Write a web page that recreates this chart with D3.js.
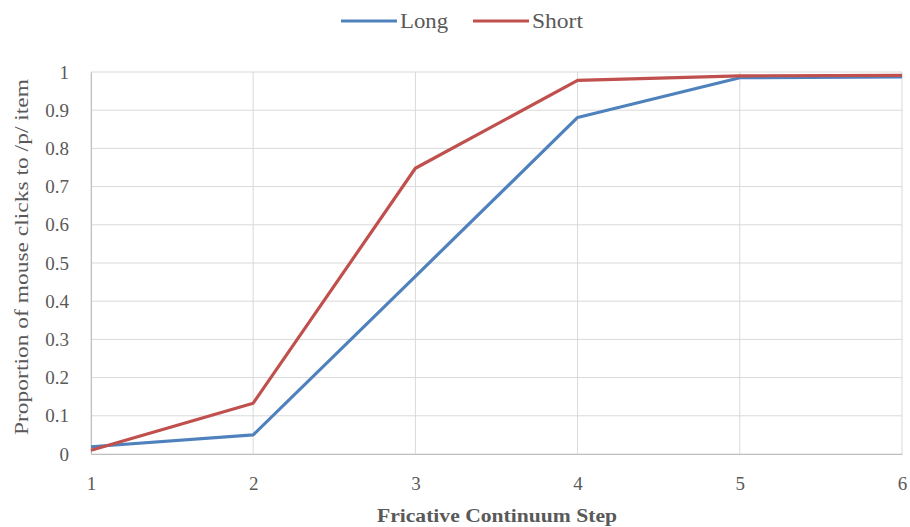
<!DOCTYPE html>
<html><head><meta charset="utf-8">
<script src="https://cdn.jsdelivr.net/npm/d3@7"></script>
<style>body{margin:0;background:#fff} svg text{font-family:"Liberation Serif","Times New Roman","DejaVu Serif",serif !important;}</style>
</head><body>
<svg id="c" width="910" height="527"></svg>
<script>
const steps = [1, 2, 3, 4, 5, 6];
const longVals = [0.019, 0.05, 0.465, 0.881, 0.985, 0.987];
const shortVals = [0.01, 0.133, 0.748, 0.978, 0.99, 0.991];
const yTicks = [0, 0.1, 0.2, 0.3, 0.4, 0.5, 0.6, 0.7, 0.8, 0.9, 1];
const seriesNames = ["Long", "Short"];
const colors = ["#4F81BD", "#C0504D"];

const svg = d3.select("#c");
const m = {l: 91, r: 8, t: 72, b: 73};
const W = 910, H = 527;
const x = d3.scaleLinear().domain([1, 6]).range([m.l, W - m.r]);
const y = d3.scaleLinear().domain([0, 1]).range([H - m.b, m.t]);

// gridlines
svg.append("g").selectAll("line").data(yTicks).join("line")
  .attr("x1", m.l).attr("x2", W - m.r)
  .attr("y1", d => y(d)).attr("y2", d => y(d))
  .attr("stroke", "#D9D9D9").attr("stroke-width", 1);
svg.append("g").selectAll("line").data(steps).join("line")
  .attr("x1", d => x(d)).attr("x2", d => x(d))
  .attr("y1", y(0)).attr("y2", y(1))
  .attr("stroke", "#D9D9D9").attr("stroke-width", 1);

// axes
const yAxis = d3.axisLeft(y).tickValues(yTicks).tickSize(0).tickPadding(22).tickFormat(d => d3.format("~g")(d));
const yg = svg.append("g").attr("transform", `translate(${m.l},0)`).call(yAxis);
yg.select(".domain").attr("stroke", "#BFBFBF");
yg.selectAll("text").attr("font-size", 19).attr("fill", "#595959");

const xAxis = d3.axisBottom(x).tickValues(steps).tickSize(0).tickPadding(23).tickFormat(d3.format("d"));
const xg = svg.append("g").attr("transform", `translate(0,${y(0)})`).call(xAxis);
xg.select(".domain").attr("stroke", "#BFBFBF");
xg.selectAll("text").attr("font-size", 19).attr("fill", "#595959");

// lines
const line = d3.line().x((d, i) => x(steps[i])).y(d => y(d));
[longVals, shortVals].forEach((vals, i) => {
  svg.append("path").datum(vals).attr("d", line)
    .attr("fill", "none").attr("stroke", colors[i]).attr("stroke-width", 3.2)
    .attr("stroke-linejoin", "round");
});

// legend
const legX = [341, 473];
const legW = [48, 51];
seriesNames.forEach((n, i) => {
  svg.append("line").attr("x1", legX[i]).attr("x2", legX[i] + 56)
    .attr("y1", 21).attr("y2", 21).attr("stroke", colors[i]).attr("stroke-width", 3.2);
  svg.append("text").attr("x", legX[i] + 59).attr("y", 28)
    .attr("font-size", 21).attr("fill", "#595959")
    .attr("textLength", legW[i]).attr("lengthAdjust", "spacingAndGlyphs").text(n);
});

// axis titles
svg.append("text").attr("x", 497).attr("y", 522).attr("text-anchor", "middle")
  .attr("font-size", 18).attr("font-weight", "bold").attr("fill", "#595959")
  .attr("textLength", 240).attr("lengthAdjust", "spacingAndGlyphs")
  .text("Fricative Continuum Step");
svg.append("text").attr("transform", `translate(28,257) rotate(-90)`).attr("text-anchor", "middle")
  .attr("font-size", 19).attr("fill", "#595959")
  .attr("textLength", 356).attr("lengthAdjust", "spacingAndGlyphs")
  .text("Proportion of mouse clicks to /p/ item");
</script>
</body></html>
